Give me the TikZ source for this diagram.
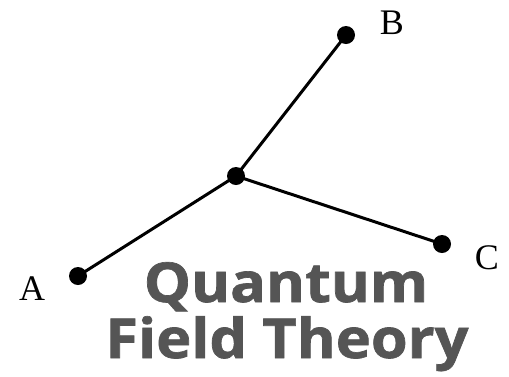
\documentclass[tikz,border=0pt]{standalone}
\usepackage{fontspec}
\setmainfont{Liberation Serif}
\newfontfamily\titlefont{Open Sans}[BoldFeatures={FakeBold=1.2}]
\usepackage{xcolor}
\usetikzlibrary{positioning}
\definecolor{titlegray}{HTML}{555555}

\begin{document}
\begin{tikzpicture}[
    x=1pt, y=-1pt,
    dot/.style={circle, fill=black, inner sep=0pt, minimum size=18pt},
    lbl/.style={font=\fontsize{36}{40}\selectfont, inner sep=0pt},
    ttl/.style={font=\titlefont\bfseries\fontsize{55}{60}\selectfont, text=titlegray, inner sep=0pt, anchor=base, xscale=1.08}
]
\useasboundingbox (0,0) rectangle (509,376);

% vertices
\node[dot] (v) at (236,176) {};
\node[dot] (b) at (346,35) {};
\node[dot] (c) at (442,244) {};
\node[dot] (a) at (78,276) {};

% labels
\node[lbl] (lb) at (392,23) {B};
\node[lbl] (lc) at (487,258) {C};
\node[lbl] (la) at (32,289) {A};

% propagators
\draw[line width=3pt] (v.center) -- (b.center);
\draw[line width=3pt] (v.center) -- (c.center);
\draw[line width=3pt] (v.center) -- (a.center);

% title
\node[ttl] (t1) at (286,302) {Quantum};
\node[ttl] (t2) at (287,358) {Field Theory};
\end{tikzpicture}
\end{document}
